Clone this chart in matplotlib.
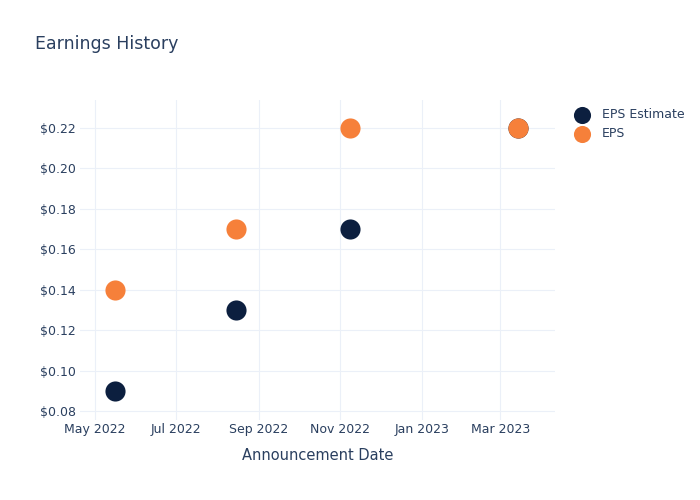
import matplotlib
matplotlib.use("Agg")
import matplotlib.pyplot as plt
import matplotlib.dates as mdates
import numpy as np
from datetime import datetime

# Earnings data
dates = ["2022-05-16", "2022-08-15", "2022-11-08", "2023-03-14"]
eps_estimate = [0.09, 0.13, 0.17, 0.22]
eps_actual = [0.14, 0.17, 0.22, 0.22]

x_ticks = ["2022-05-01", "2022-07-01", "2022-09-01", "2022-11-01", "2023-01-01", "2023-03-01"]
y_ticks = [0.08, 0.10, 0.12, 0.14, 0.16, 0.18, 0.20, 0.22]

TEXT = "#2a3f5f"
GRID = "#ebf0f8"
NAVY = "#0c1f3f"
ORANGE = "#f6803a"

d = [datetime.strptime(s, "%Y-%m-%d") for s in dates]
xt = [datetime.strptime(s, "%Y-%m-%d") for s in x_ticks]

fig = plt.figure(figsize=(7, 5), dpi=100)
ax = fig.add_axes([80 / 700, 80 / 500, 475 / 700, 320 / 500])

ax.scatter(d, eps_estimate, s=210, color=NAVY, label="EPS Estimate", zorder=3, linewidths=0)
ax.scatter(d, eps_actual, s=210, color=ORANGE, label="EPS", zorder=4, linewidths=0)

ax.set_xlim(datetime(2022, 4, 20), datetime(2023, 4, 11))
ax.set_ylim(0.0756, 0.2338)
ax.set_xticks(xt)
ax.xaxis.set_major_formatter(mdates.DateFormatter("%b %Y"))
ax.set_yticks(y_ticks)
ax.set_yticklabels(["$%.2f" % v for v in y_ticks])

ax.grid(True, color=GRID, linewidth=0.8)
ax.set_axisbelow(True)
for sp in ax.spines.values():
    sp.set_visible(False)
ax.tick_params(axis="x", length=0, labelsize=9, colors=TEXT, pad=2)
ax.tick_params(axis="y", length=0, labelsize=9, colors=TEXT, pad=3)

ax.set_xlabel("Announcement Date", fontsize=10.5, color=TEXT, labelpad=9)
fig.text(35 / 700, 1 - 44 / 500, "Earnings History", fontsize=12.5, color=TEXT, va="center")

leg = ax.legend(loc="upper left", bbox_to_anchor=(1.02, 0.99), frameon=False,
                fontsize=9, labelcolor=TEXT, handletextpad=0.6, borderaxespad=0,
                labelspacing=0.45, markerscale=0.85)

fig.savefig("out.png", dpi=100)
